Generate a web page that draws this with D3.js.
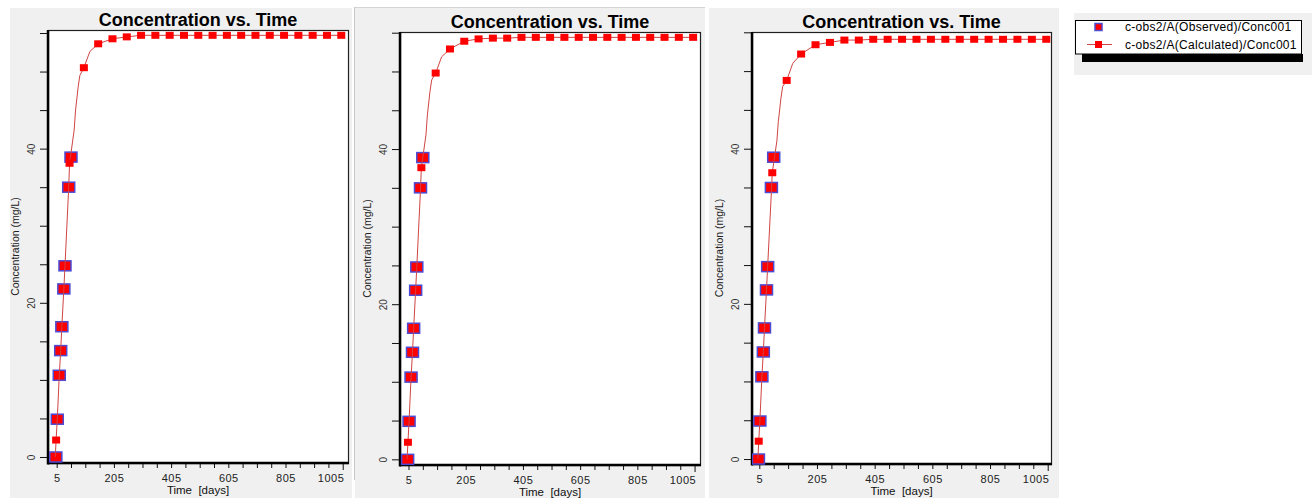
<!DOCTYPE html>
<html>
<head>
<meta charset="utf-8">
<script src="https://cdn.jsdelivr.net/npm/d3@7/dist/d3.min.js"></script>
<style>
  html, body { margin: 0; padding: 0; background: #ffffff; }
  svg { display: block; font-family: "Liberation Sans", Arial, sans-serif; }
</style>
</head>
<body>
<svg id="chart" width="1312" height="498"></svg>
<script>
// ---- data -------------------------------------------------------------
const chartTitle = "Concentration vs. Time";
const xAxisTitle = "Time  [days]";
const yAxisTitle = "Concentration (mg/L)";
const seriesNames = ["c-obs2/A(Observed)/Conc001", "c-obs2/A(Calculated)/Conc001"];

const xTickValues = [5, 205, 405, 605, 805, 1005];
const yTickValues = [0, 20, 40];

// observed samples (same well in every panel)
const obsTime = [2, 7, 14, 19, 23, 30, 34, 47, 55];
const obsConc = [0, 4.9, 10.6, 13.8, 16.9, 21.8, 24.8, 35.0, 38.9];

// calculated output, marker times
const calcTime = [3, 50, 100, 150, 200, 250, 300, 350, 400, 450, 500, 550, 600, 650, 700, 750, 800, 850, 900, 950, 1000];
const calcConcA = [2.2, 38.1, 50.5, 53.6, 54.25, 54.5, 54.7, 54.7, 54.7, 54.7, 54.7, 54.7, 54.7, 54.7, 54.7, 54.7, 54.7, 54.7, 54.7, 54.7, 54.7];
const calcConcB = [2.2, 37.6, 49.8, 52.9, 53.9, 54.2, 54.3, 54.3, 54.4, 54.4, 54.4, 54.4, 54.4, 54.4, 54.4, 54.4, 54.4, 54.4, 54.4, 54.4, 54.4];
const calcConcC = [2.3, 36.9, 48.8, 52.2, 53.4, 53.7, 54.0, 54.0, 54.1, 54.1, 54.1, 54.1, 54.1, 54.1, 54.1, 54.1, 54.1, 54.1, 54.1, 54.1, 54.1];

// calculated output between markers (curve only)
const curveTime = [0, 7, 14, 19, 23, 30, 34, 47, 66, 71, 80, 86, 121];
const curveConcA = [0, 4.9, 10.6, 13.8, 16.9, 21.8, 24.8, 35.0, 42.4, 45.0, 48.0, 49.5, 52.6];
const curveConcB = [0, 4.9, 10.6, 13.8, 16.9, 21.8, 24.8, 34.8, 41.8, 44.4, 47.4, 48.9, 51.9];
const curveConcC = [0, 4.9, 10.6, 13.8, 16.9, 21.8, 24.8, 34.5, 41.0, 43.5, 46.5, 48.0, 51.0];

const calcConc = [calcConcA, calcConcB, calcConcC];
const curveConc = [curveConcA, curveConcB, curveConcC];

// ---- layout -----------------------------------------------------------
const panels = [
  { bg: [10, 8, 342, 490],  plot: [48, 30, 300, 433],  xDom: [-25.4, 1023.5], yDom: [-0.78, 55.39] },
  { bg: [355, 7, 350, 491], plot: [400, 32, 300, 433], xDom: [-24.7, 1024],   yDom: [-0.73, 55.09] },
  { bg: [709, 8, 350, 490], plot: [752, 32, 299, 432], xDom: [-20.3, 1016.4], yDom: [-0.64, 55.04] }
];

const RED = "#ff0000";
const OBS_EDGE = "#4b4bd6";
const LINE = "#d04444";

const svg = d3.select("#chart");

panels.forEach((p, i) => {
  const [px, py, pw, ph] = p.plot;
  const g = svg.append("g");

  // panel background
  g.append("rect")
    .attr("x", p.bg[0]).attr("y", p.bg[1])
    .attr("width", p.bg[2]).attr("height", p.bg[3])
    .attr("fill", "#f0f0f0");
  if (i === 1) {
    g.append("line").attr("x1", p.bg[0] - 0.5).attr("x2", p.bg[0] - 0.5)
      .attr("y1", p.bg[1]).attr("y2", 480).attr("stroke", "#c8c8c8");
    g.append("line").attr("x1", p.bg[0]).attr("x2", p.bg[0] + p.bg[2])
      .attr("y1", p.bg[1] + 0.5).attr("y2", p.bg[1] + 0.5).attr("stroke", "#d4d4d4");
  }

  // plot area
  g.append("rect")
    .attr("x", px + 0.5).attr("y", py + 0.5)
    .attr("width", pw).attr("height", ph)
    .attr("fill", "#ffffff").attr("stroke", "#202020").attr("stroke-width", 1.2);

  const x = d3.scaleLinear().domain(p.xDom).range([px, px + pw]);
  const y = d3.scaleLinear().domain(p.yDom).range([py + ph, py]);

  // clip for marks
  const clipId = "clip" + i;
  svg.append("clipPath").attr("id", clipId)
    .append("rect").attr("x", px).attr("y", py - 6).attr("width", pw + 8).attr("height", ph + 12);

  // y axis (ticks every 5, labels every 20)
  const yMinor = d3.range(0, 56, 5);
  const yAxis = d3.axisLeft(y).tickValues(yMinor).tickSize(8).tickSizeOuter(0)
    .tickFormat(d => yTickValues.includes(d) ? d : "");
  const ya = g.append("g").attr("transform", `translate(${px},0)`).call(yAxis);
  ya.select(".domain").remove();
  ya.selectAll(".tick line").attr("stroke", "#111").attr("stroke-width", 1);
  ya.selectAll(".tick text")
    .attr("x", null).attr("dy", null)
    .attr("transform", "translate(-13.5,0) rotate(-90)")
    .attr("text-anchor", "middle")
    .attr("font-size", 10).attr("fill", "#333")
    .attr("font-family", "'Liberation Sans', Arial, sans-serif");

  // x axis (ticks every 50, labels every 200)
  const xMinor = d3.range(5, 1006, 50);
  const xAxis = d3.axisBottom(x).tickValues(xMinor).tickSize(5).tickSizeOuter(0)
    .tickFormat(d => xTickValues.includes(d) ? d : "");
  const xa = g.append("g").attr("transform", `translate(0,${py + ph})`).call(xAxis);
  xa.select(".domain").remove();
  xa.selectAll(".tick line").attr("stroke", "#111").attr("stroke-width", 1);
  xa.selectAll(".tick text")
    .attr("y", 11).attr("dy", "0.71em")
    .attr("font-size", 11).attr("fill", "#222")
    .attr("letter-spacing", 0.5)
    .attr("font-family", "'Liberation Sans', Arial, sans-serif")
    .attr("text-anchor", d => d === 1005 ? "end" : "middle")
    .attr("dx", d => d === 1005 ? "0.1em" : 0);
  xa.selectAll(".tick").filter(d => d === 1005).select("line").attr("y2", 7);

  // thick left and bottom frame edges
  g.append("line").attr("x1", px).attr("x2", px).attr("y1", py).attr("y2", py + ph + 1.5)
    .attr("stroke", "#000").attr("stroke-width", 2.5);
  g.append("line").attr("x1", px).attr("x2", px + pw + 1).attr("y1", py + ph).attr("y2", py + ph)
    .attr("stroke", "#000").attr("stroke-width", 2.5);

  // titles
  g.append("text")
    .attr("x", px + pw / 2).attr("y", py - 4.5)
    .attr("text-anchor", "middle")
    .attr("font-size", 18).attr("font-weight", "bold").attr("fill", "#000")
    .text(chartTitle);

  g.append("text")
    .attr("x", px + pw / 2).attr("y", py + ph + 31)
    .attr("text-anchor", "middle")
    .attr("font-size", 11.5).attr("fill", "#111")
    .attr("xml:space", "preserve")
    .style("white-space", "pre")
    .text(xAxisTitle);

  g.append("text")
    .attr("transform", `translate(${px - 29},${py + ph / 2}) rotate(-90)`)
    .attr("text-anchor", "middle")
    .attr("font-size", 10.5).attr("fill", "#222")
    .text(yAxisTitle);

  // marks
  const marks = g.append("g").attr("clip-path", `url(#${clipId})`);

  const obs = obsTime.map((t, k) => ({ t, v: obsConc[k] }));
  const calc = calcTime.map((t, k) => ({ t, v: calcConc[i][k] }));
  const curve = curveTime.map((t, k) => ({ t, v: curveConc[i][k] }))
    .concat(calc).sort((a, b) => a.t - b.t);

  marks.selectAll("rect.obs").data(obs).join("rect")
    .attr("class", "obs")
    .attr("x", d => x(d.t) - 6).attr("y", d => y(d.v) - 5)
    .attr("width", 12).attr("height", 10)
    .attr("fill", RED).attr("stroke", OBS_EDGE).attr("stroke-width", 1.5);

  marks.append("path")
    .datum(curve)
    .attr("fill", "none").attr("stroke", LINE).attr("stroke-width", 1)
    .attr("d", d3.line().x(d => x(d.t)).y(d => y(d.v)));

  marks.selectAll("rect.calc").data(calc).join("rect")
    .attr("class", "calc")
    .attr("x", d => x(d.t) - 4).attr("y", d => y(d.v) - 3.5)
    .attr("width", 8).attr("height", 7)
    .attr("fill", RED);
});

// ---- legend -----------------------------------------------------------
const lg = svg.append("g");
lg.append("rect").attr("x", 1074).attr("y", 13).attr("width", 238).attr("height", 62).attr("fill", "#f0f0f0");
lg.append("rect").attr("x", 1082).attr("y", 54).attr("width", 221).attr("height", 8).attr("fill", "#000");
lg.append("rect").attr("x", 1075.5).attr("y", 20.5).attr("width", 226).attr("height", 33.5)
  .attr("fill", "#fff").attr("stroke", "#000").attr("stroke-width", 1);

const legendRows = seriesNames.map((name, k) => ({ name, k }));
const row = lg.selectAll("g.row").data(legendRows).join("g")
  .attr("class", "row")
  .attr("transform", d => `translate(0,${27 + d.k * 17.5})`);

row.filter(d => d.k === 1).append("line")
  .attr("x1", 1087).attr("x2", 1112).attr("y1", 0).attr("y2", 0)
  .attr("stroke", LINE).attr("stroke-width", 1);
row.append("rect")
  .attr("x", 1095).attr("y", -3.5).attr("width", 7).attr("height", 7)
  .attr("fill", RED)
  .attr("stroke", d => d.k === 0 ? OBS_EDGE : "none").attr("stroke-width", 1.5);
row.append("text")
  .attr("x", 1125).attr("y", 4)
  .attr("font-size", 12).attr("letter-spacing", 0.3).attr("fill", "#000")
  .text(d => d.name);
</script>
</body>
</html>
